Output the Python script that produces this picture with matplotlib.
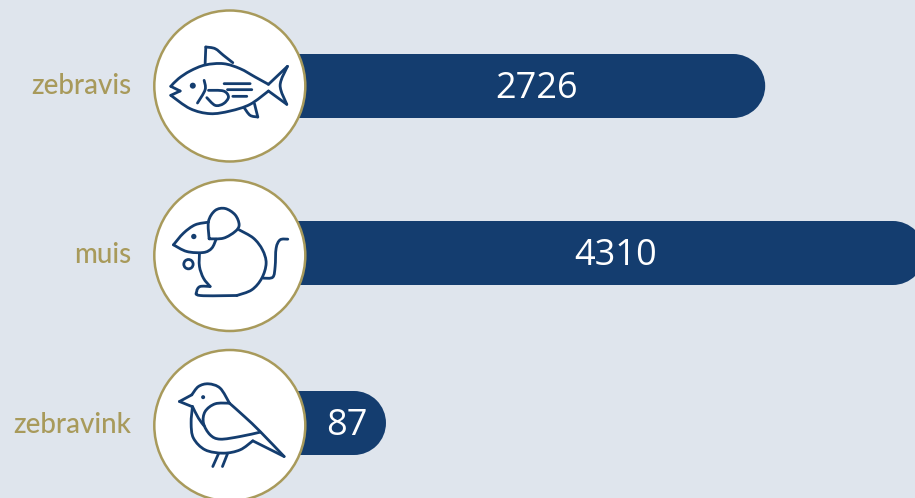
import numpy as np
import matplotlib
matplotlib.use('Agg')
import matplotlib.pyplot as plt
from matplotlib.patches import Circle, Rectangle
from matplotlib.path import Path
from matplotlib.patches import PathPatch

categories = ['zebravis', 'muis', 'zebravink']
values = [2726, 4310, 87]

bg = '#dfe5ed'
navy = '#143d6f'
gold = '#a89a5b'

fig = plt.figure(figsize=(9.15, 4.98), dpi=100, facecolor=bg)
# canvas in pixels, y runs down like in the picture
ax = fig.add_axes([0, 0, 1, 1])
ax.set_xlim(0, 915)
ax.set_ylim(498, 0)
ax.axis('off')

# value axis: the bars are not linear in the source, a power scale fits them
POW = 0.71
ax_v = fig.add_axes([350 / 915, 0, 565 / 915, 1])
ax_v.set_xscale('function', functions=(lambda v: np.abs(v) ** POW, lambda v: np.abs(v) ** (1 / POW)))
ax_v.set_xlim(0, 4207)
ax_v.axis('off')

centers = [86, 255.5, 425.5]
bar_y = [86, 253, 423]
bar_h = 64
circle_r = 75.5


def smooth(pts):
    # catmull-rom through hand placed points
    pts = np.array(pts, dtype=float)
    p = np.vstack([pts[0], pts, pts[-1]])
    verts = [pts[0]]
    codes = [Path.MOVETO]
    for i in range(1, len(p) - 2):
        verts += [p[i] + (p[i + 1] - p[i - 1]) / 6, p[i + 1] - (p[i + 2] - p[i]) / 6, p[i + 1]]
        codes += [Path.CURVE4] * 3
    return np.array(verts), codes


def stroke(pts, cx, cy, lw=2.0):
    # icon points are in 3x zoom units, with the circle centre at (269, 257)
    verts, codes = smooth(pts)
    verts = (verts - [269, 257]) / 3 + [cx, cy]
    ax.add_patch(PathPatch(Path(verts, codes), fc='none', ec=navy, lw=lw, capstyle='round', joinstyle='round', zorder=5))


def dot(x, y, r, cx, cy, fill=True):
    pos = ((x - 269) / 3 + cx, (y - 257) / 3 + cy)
    ax.add_patch(Circle(pos, r / 3, fc=navy if fill else 'none', ec=navy, lw=0 if fill else 2.0, zorder=5))


def fish(cx, cy):
    stroke([(92, 258), (115, 235), (150, 212), (195, 194), (250, 190), (300, 205), (345, 230), (385, 252)], cx, cy)
    stroke([(385, 252), (442, 198)], cx, cy)
    stroke([(442, 198), (420, 255), (440, 312)], cx, cy)
    stroke([(440, 312), (385, 272)], cx, cy)
    stroke([(385, 272), (330, 312), (270, 332), (210, 340), (150, 325), (92, 285)], cx, cy)
    stroke([(92, 285), (120, 272)], cx, cy)
    stroke([(120, 272), (92, 258)], cx, cy)
    stroke([(195, 190), (197, 140)], cx, cy)
    stroke([(197, 140), (225, 145), (250, 165), (278, 187)], cx, cy)
    stroke([(312, 322), (330, 345), (353, 350)], cx, cy)
    stroke([(353, 350), (343, 310)], cx, cy)
    dot(158, 256, 9, cx, cy)
    stroke([(192, 240), (195, 268), (172, 308)], cx, cy)
    stroke([(200, 292), (225, 315), (250, 310), (265, 290), (250, 272), (205, 270)], cx, cy)
    stroke([(252, 250), (330, 250)], cx, cy)
    stroke([(262, 268), (335, 268)], cx, cy)
    stroke([(278, 288), (320, 288)], cx, cy)


def mouse(cx, cy):
    stroke([(207, 207), (205, 155), (225, 122), (255, 116), (285, 135), (297, 165), (285, 185), (250, 205), (207, 207)], cx, cy)
    stroke([(205, 157), (165, 165), (130, 190), (100, 225)], cx, cy)
    stroke([(100, 225), (140, 245), (190, 248), (215, 235), (228, 208)], cx, cy)
    stroke([(297, 180), (340, 205), (367, 240), (378, 280), (365, 325), (335, 360), (290, 377)], cx, cy)
    stroke([(290, 377), (180, 377), (170, 364), (180, 350), (210, 350)], cx, cy)
    stroke([(210, 350), (190, 325), (178, 290), (178, 250)], cx, cy)
    stroke([(370, 325), (398, 322), (405, 290), (408, 235), (420, 210), (443, 208)], cx, cy)
    dot(161, 200, 8, cx, cy)
    dot(145, 283, 14, cx, cy, fill=False)


def bird(cx, cy):
    stroke([(155, 165), (175, 140), (205, 132), (240, 145), (268, 190)], cx, cy)
    stroke([(155, 165), (118, 185)], cx, cy)
    stroke([(118, 185), (155, 200)], cx, cy)
    stroke([(268, 190), (315, 232), (360, 275), (432, 350)], cx, cy)
    stroke([(432, 350), (338, 303)], cx, cy)
    stroke([(338, 303), (300, 330), (250, 340), (195, 330), (160, 295), (153, 250), (157, 200)], cx, cy)
    stroke([(268, 190), (225, 192), (195, 215), (190, 250), (210, 285), (240, 298), (300, 290), (360, 277)], cx, cy)
    stroke([(157, 200), (175, 235), (192, 258)], cx, cy)
    stroke([(235, 342), (218, 380)], cx, cy)
    stroke([(262, 342), (247, 380)], cx, cy)
    dot(189, 172, 6, cx, cy)


icons = [fish, mouse, bird]

fig.canvas.draw()
for i in range(len(values)):
    # value to pixel through the value axis
    end = ax_v.transData.transform((values[i], 0))[0]
    r = bar_h / 2
    ax.add_patch(Rectangle((229, bar_y[i] - r), end - 229 - r, bar_h, fc=navy, ec='none', zorder=1))
    ax.add_patch(Circle((end - r, bar_y[i]), r, fc=navy, ec='none', zorder=1))
    ax.add_patch(Circle((229.8, centers[i]), circle_r, fc='white', ec=gold, lw=1.8, zorder=3))
    icons[i](229.8, centers[i])
    ax.text((305 + end) / 2 + 1, bar_y[i] + 2.5, str(values[i]), color='white', fontsize=26,
            family='Open Sans', ha='center', va='center', zorder=4)
    ax.text(131, centers[i] - 0.5, categories[i], color=gold, fontsize=20, weight='medium',
            family='Lato', ha='right', va='center', zorder=4)

fig.savefig('out.png', dpi=100, facecolor=bg)
